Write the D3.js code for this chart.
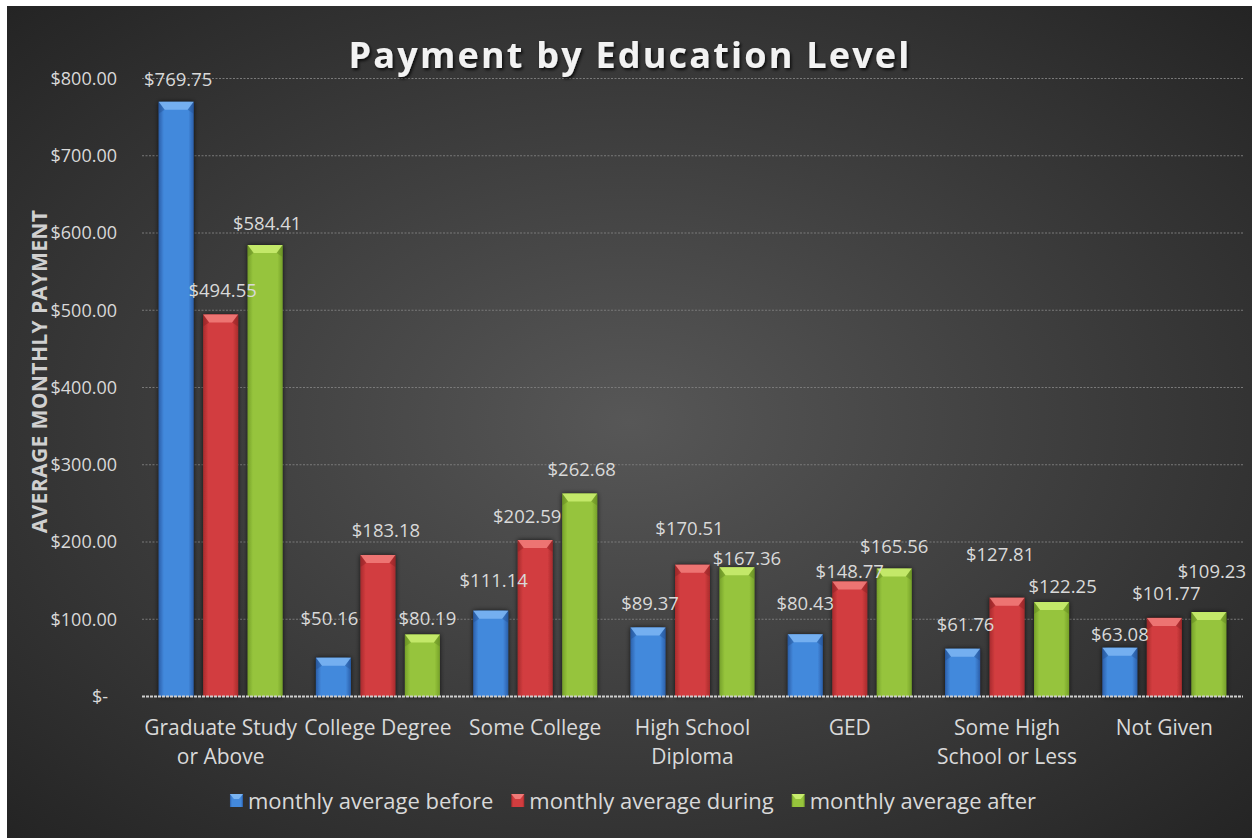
<!DOCTYPE html>
<html>
<head>
<meta charset="utf-8">
<script src="https://cdn.jsdelivr.net/npm/d3@7"></script>
<style>
  html, body { margin: 0; padding: 0; background: #ffffff; }
  svg { display: block; }
  text { font-family: "Open Sans", "Noto Sans", sans-serif; }
</style>
</head>
<body>
<svg id="chart" width="1252" height="838"></svg>
<script>
// ---------------- data ----------------
const categories = [
  ["Graduate Study", "or Above"],
  ["College Degree"],
  ["Some College"],
  ["High School", "Diploma"],
  ["GED"],
  ["Some High", "School or Less"],
  ["Not Given"]
];
const seriesNames = ["monthly average before", "monthly average during", "monthly average after"];
const before = [769.75, 50.16, 111.14, 89.37, 80.43, 61.76, 63.08];
const during = [494.55, 183.18, 202.59, 170.51, 148.77, 127.81, 101.77];
const after  = [584.41, 80.19, 262.68, 167.36, 165.56, 122.25, 109.23];
const yTicks = [0, 100, 200, 300, 400, 500, 600, 700, 800];
const titleText = "Payment by Education Level";
const yTitleText = "AVERAGE MONTHLY PAYMENT";

// label nudges (layout only): [dx, dy] per series per category
const labelNudge = [
  [[2,-1],[-4,-17],[3,-8],[2,-2],[0,-9],[3,-2],[0,9]],
  [[2,-2],[8,-3],[-8,-2],[-3,-14],[0,12],[-7,-21],[2,-3]],
  [[2,0],[5,6],[2,-2],[10,13],[0,0],[11,6],[3,-19]]
];

// ---------------- layout ----------------
const svg = d3.select("#chart");
const W = 1252, H = 838;
const frame = {x: 7, y: 6, w: W - 7, h: H - 6};
const plot = {left: 142, right: 1243, top: 78.5, bottom: 696.5};

const defs = svg.append("defs");
const bg = defs.append("radialGradient").attr("id", "bgGrad")
  .attr("cx", "50%").attr("cy", "50%").attr("r", "72%");
bg.append("stop").attr("offset", "0%").attr("stop-color", "#575757");
bg.append("stop").attr("offset", "100%").attr("stop-color", "#232323");

const palettes = [
  {edge: "#2b5faa", mid: "#4389dc", top: "#7ab4f2", dark: "#1f4a8a"},
  {edge: "#a82b2d", mid: "#d23d3f", top: "#f07a78", dark: "#7e1e20"},
  {edge: "#76a12a", mid: "#96c43c", top: "#c8ec6e", dark: "#587a1c"}
];
palettes.forEach((p, i) => {
  const g = defs.append("linearGradient").attr("id", "barGrad" + i)
    .attr("x1", "0%").attr("x2", "100%").attr("y1", "0%").attr("y2", "0%");
  g.append("stop").attr("offset", "0%").attr("stop-color", p.edge);
  g.append("stop").attr("offset", "15%").attr("stop-color", p.mid);
  g.append("stop").attr("offset", "85%").attr("stop-color", p.mid);
  g.append("stop").attr("offset", "100%").attr("stop-color", p.edge);
});
const shadow = defs.append("filter").attr("id", "barShadow")
  .attr("x", "-30%").attr("y", "-10%").attr("width", "160%").attr("height", "120%");
shadow.append("feDropShadow").attr("dx", 0).attr("dy", 0).attr("stdDeviation", 2.5)
  .attr("flood-color", "#000").attr("flood-opacity", 0.75);
const tshadow = defs.append("filter").attr("id", "titleShadow")
  .attr("x", "-10%").attr("y", "-30%").attr("width", "120%").attr("height", "160%");
tshadow.append("feDropShadow").attr("dx", 1.5).attr("dy", 2).attr("stdDeviation", 1.5)
  .attr("flood-color", "#000").attr("flood-opacity", 0.8);

svg.append("rect").attr("x", frame.x).attr("y", frame.y)
  .attr("width", frame.w).attr("height", frame.h).attr("fill", "url(#bgGrad)");

// scales
const y = d3.scaleLinear().domain([0, 800]).range([plot.bottom, plot.top]);
const x0 = d3.scaleBand().domain(d3.range(categories.length)).range([plot.left, plot.right]);
const bw = x0.bandwidth();
const x1 = d3.scaleBand().domain(d3.range(3)).range([bw / 2 - 62, bw / 2 + 62])
  .paddingInner(0.213).paddingOuter(0);

// gridlines
svg.append("g").selectAll("line").data(yTicks.filter(d => d > 0)).join("line")
  .attr("x1", plot.left).attr("x2", plot.right)
  .attr("y1", d => y(d)).attr("y2", d => y(d))
  .attr("stroke", "#7a7a7a").attr("stroke-width", 1).attr("stroke-dasharray", "2,1.5");

// y axis tick labels
const yAxis = d3.axisLeft(y).tickValues(yTicks)
  .tickFormat(d => d === 0 ? "$-" : "$" + d3.format(",.2f")(d)).tickSize(0).tickPadding(0);
const ya = svg.append("g").attr("transform", `translate(117,0)`).call(yAxis);
ya.select(".domain").remove();
ya.selectAll("text").attr("fill", "#d9d9d9").style("font-size", "18px")
  .style("font-family", '"Open Sans", sans-serif')
  .attr("x", d => d === 0 ? -9 : 0);

// bars
const seriesData = [before, during, after];
const barLayer = svg.append("g");
const labelLayer = svg.append("g");
seriesData.forEach((vals, si) => {
  const g = barLayer.append("g").attr("class", "series" + si);
  const p = palettes[si];
  const bars = g.selectAll("g.bar").data(vals.map((v, ci) => ({v, ci}))).join("g").attr("class", "bar");
  bars.append("rect")
    .attr("x", d => x0(d.ci) + x1(si)).attr("y", d => y(d.v))
    .attr("width", x1.bandwidth()).attr("height", d => y(0) - y(d.v))
    .attr("fill", `url(#barGrad${si})`).attr("filter", "url(#barShadow)");
  bars.append("path").attr("d", d => {
    const xl = x0(d.ci) + x1(si), xr = xl + x1.bandwidth(), yt = y(d.v);
    const inset = 6, depth = 8;
    return `M${xl},${yt}L${xr},${yt}L${xr - inset},${yt + depth}L${xl + inset},${yt + depth}Z`;
  }).attr("fill", p.top).attr("opacity", 0.9);
  bars.append("path").attr("d", d => {
    const xl = x0(d.ci) + x1(si), yt = y(d.v);
    return `M${xl},${yt}L${xl + 6},${yt + 8}L${xl},${yt + 12}Z`;
  }).attr("fill", p.dark).attr("opacity", 0.35);
  bars.append("path").attr("d", d => {
    const xr = x0(d.ci) + x1(si) + x1.bandwidth(), yt = y(d.v);
    return `M${xr},${yt}L${xr - 6},${yt + 8}L${xr},${yt + 12}Z`;
  }).attr("fill", p.dark).attr("opacity", 0.35);
  labelLayer.append("g").selectAll("text").data(vals.map((v, ci) => ({v, ci}))).join("text")
    .attr("x", d => x0(d.ci) + x1(si) + x1.bandwidth() / 2 + labelNudge[si][d.ci][0])
    .attr("y", d => y(d.v) - 22 + labelNudge[si][d.ci][1])
    .attr("dy", "0.36em").attr("text-anchor", "middle")
    .attr("fill", "#d9d9d9").style("font-size", "18.5px")
    .text(d => "$" + d3.format(",.2f")(d.v));
});
labelLayer.raise();

// baseline axis
svg.append("line").attr("x1", plot.left).attr("x2", plot.right)
  .attr("y1", y(0)).attr("y2", y(0))
  .attr("stroke", "#cfcfcf").attr("stroke-width", 2).attr("stroke-dasharray", "3,1");

// category labels
const xa = svg.append("g");
categories.forEach((lines, ci) => {
  const t = xa.append("text").attr("text-anchor", "middle").attr("fill", "#d9d9d9")
    .style("font-size", "21px");
  lines.forEach((ln, li) => {
    t.append("tspan").attr("x", x0(ci) + bw / 2).attr("y", 735 + li * 29).text(ln);
  });
});

// title
svg.append("text").attr("x", 630).attr("y", 68).attr("text-anchor", "middle")
  .attr("fill", "#f2f2f2").style("font-size", "36px").style("font-weight", "bold")
  .style("letter-spacing", "2.2px").attr("filter", "url(#titleShadow)")
  .text(titleText);

// y title
svg.append("text").attr("transform", `translate(47,${(plot.top + plot.bottom) / 2 - 16}) rotate(-90)`)
  .attr("text-anchor", "middle").attr("fill", "#d0d0d0")
  .style("font-size", "21px").style("font-weight", "bold").style("letter-spacing", "0.4px")
  .text(yTitleText);

// legend
const legend = svg.append("g");
let lx = 0;
seriesNames.forEach((name, i) => {
  const g = legend.append("g");
  g.append("rect").attr("x", 0).attr("y", -7).attr("width", 13).attr("height", 13)
    .attr("fill", `url(#barGrad${i})`);
  g.append("path").attr("d", "M0,-7L13,-7L9,-2L4,-2Z").attr("fill", palettes[i].top);
  const t = g.append("text").attr("x", 18).attr("dy", "0.35em").attr("fill", "#d9d9d9")
    .style("font-size", "22px").text(name);
  const w = 18 + t.node().getComputedTextLength();
  g.attr("transform", `translate(${lx},0)`);
  lx += w + 18;
});
const totalW = lx - 18;
legend.attr("transform", `translate(${633 - totalW / 2},801)`);
</script>
</body>
</html>
